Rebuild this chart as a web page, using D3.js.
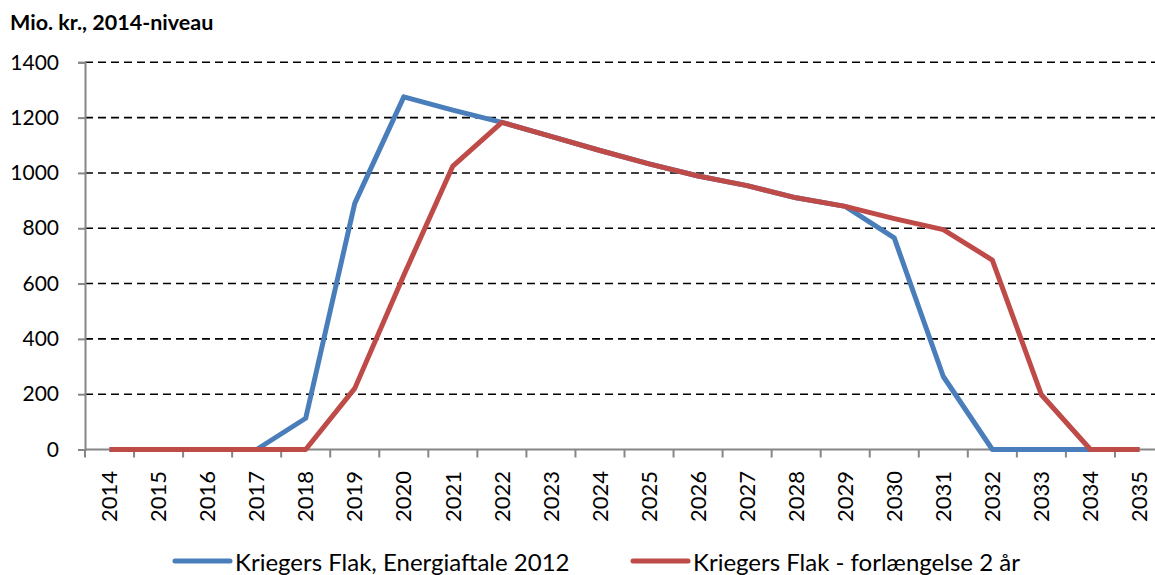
<!DOCTYPE html>
<html>
<head>
<meta charset="utf-8">
<script src="https://cdn.jsdelivr.net/npm/d3@7"></script>
<style>
  body { margin: 0; background: #fff; }
  svg { display: block; font-family: "Lato", "Liberation Sans", sans-serif; }
</style>
</head>
<body>
<div id="chart"></div>
<script>
const years = ["2014","2015","2016","2017","2018","2019","2020","2021","2022","2023","2024",
               "2025","2026","2027","2028","2029","2030","2031","2032","2033","2034","2035"];
const energiaftale = [0,0,0,0,113,890,1275,1227,1183,1132,1081,1033,989,954,910,879,765,264,0,0,0,0];
const forlaengelse = [0,0,0,0,0,221,630,1025,1183,1132,1081,1033,989,954,910,879,835,795,685,198,0,0];
const yTicks = [0,200,400,600,800,1000,1200,1400];
const seriesNames = ["Kriegers Flak, Energiaftale 2012", "Kriegers Flak - forlængelse 2 år"];
const seriesColors = ["#4a7ebb", "#be4b48"];

const W = 1155, H = 575;
const plotLeft = 85, plotRight = 1164, plotTop = 62.3, plotBottom = 449.5;

const svg = d3.select("#chart").append("svg")
  .attr("width", W)
  .attr("height", H);

const x = d3.scaleBand().domain(years).range([plotLeft, plotRight]).padding(0);
const y = d3.scaleLinear().domain([0, 1400]).range([plotBottom, plotTop]);

// title
svg.append("text")
  .attr("x", 10)
  .attr("y", 30)
  .attr("font-weight", "bold")
  .attr("font-size", 21.5)
  .attr("fill", "#000")
  .text("Mio. kr., 2014-niveau");

// dashed gridlines
svg.append("g")
  .selectAll("line")
  .data(yTicks.filter(d => d > 0))
  .enter().append("line")
  .attr("x1", plotLeft).attr("x2", W)
  .attr("y1", d => y(d)).attr("y2", d => y(d))
  .attr("stroke", "#000")
  .attr("stroke-width", 1.6)
  .attr("stroke-dasharray", "8,5");

// y axis
const yAxis = svg.append("g")
  .attr("transform", `translate(${plotLeft},0)`)
  .call(d3.axisLeft(y).tickValues(yTicks).tickSize(7).tickPadding(19).tickFormat(d3.format("d")));
yAxis.select(".domain").attr("stroke", "#868686").attr("stroke-width", 2);
yAxis.selectAll(".tick line").attr("stroke", "#868686").attr("stroke-width", 2);
yAxis.selectAll(".tick text")
  .attr("font-size", 21)
  .attr("fill", "#000")
  .attr("font-family", "Lato, 'Liberation Sans', sans-serif");

// x axis line with ticks at category boundaries
const xg = svg.append("g");
xg.append("line")
  .attr("x1", plotLeft).attr("x2", W)
  .attr("y1", plotBottom).attr("y2", plotBottom)
  .attr("stroke", "#868686").attr("stroke-width", 2);
xg.selectAll(".xtick")
  .data(years)
  .enter().append("line")
  .attr("class", "xtick")
  .attr("x1", d => x(d)).attr("x2", d => x(d))
  .attr("y1", plotBottom).attr("y2", plotBottom + 8)
  .attr("stroke", "#868686").attr("stroke-width", 2);
xg.selectAll(".xlabel")
  .data(years)
  .enter().append("text")
  .attr("class", "xlabel")
  .attr("transform", d => `translate(${x(d) + x.bandwidth() / 2},471) rotate(-90)`)
  .attr("text-anchor", "end")
  .attr("dy", "0.35em")
  .attr("font-size", 22)
  .attr("fill", "#000")
  .text(d => d);

// lines
const line = d3.line()
  .x((d, i) => x(years[i]) + x.bandwidth() / 2)
  .y(d => y(d));

[energiaftale, forlaengelse].forEach((s, i) => {
  svg.append("path")
    .datum(s)
    .attr("fill", "none")
    .attr("stroke", seriesColors[i])
    .attr("stroke-width", 5)
    .attr("stroke-linejoin", "round")
    .attr("d", line);
});

// legend
const legendX = [175, 633];
const legend = svg.append("g");
seriesNames.forEach((name, i) => {
  legend.append("line")
    .attr("x1", legendX[i]).attr("x2", legendX[i] + 55)
    .attr("y1", 561).attr("y2", 561)
    .attr("stroke", seriesColors[i])
    .attr("stroke-width", 5)
    .attr("stroke-linecap", "round");
  legend.append("text")
    .attr("x", legendX[i] + 60)
    .attr("y", 571)
    .attr("font-size", 24)
    .attr("fill", "#000")
    .text(name);
});
</script>
</body>
</html>
